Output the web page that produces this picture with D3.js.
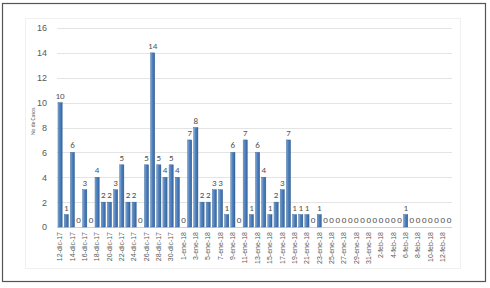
<!DOCTYPE html>
<html>
<head>
<meta charset="utf-8">
<script src="https://cdn.jsdelivr.net/npm/d3@7"></script>
<style>
  body { margin: 0; background: #fff; }
  svg { display: block; font-family: Calibri, Carlito, "Liberation Sans", Arial, sans-serif; }
</style>
</head>
<body>
<div id="chart"></div>
<script>
// daily dates, 12-dic-17 .. 13-feb-18
var dates = [
  "12-dic-17","13-dic-17","14-dic-17","15-dic-17","16-dic-17","17-dic-17","18-dic-17","19-dic-17",
  "20-dic-17","21-dic-17","22-dic-17","23-dic-17","24-dic-17","25-dic-17","26-dic-17","27-dic-17",
  "28-dic-17","29-dic-17","30-dic-17","31-dic-17",
  "1-ene-18","2-ene-18","3-ene-18","4-ene-18","5-ene-18","6-ene-18","7-ene-18","8-ene-18",
  "9-ene-18","10-ene-18","11-ene-18","12-ene-18","13-ene-18","14-ene-18","15-ene-18","16-ene-18",
  "17-ene-18","18-ene-18","19-ene-18","20-ene-18","21-ene-18","22-ene-18","23-ene-18","24-ene-18",
  "25-ene-18","26-ene-18","27-ene-18","28-ene-18","29-ene-18","30-ene-18","31-ene-18",
  "1-feb-18","2-feb-18","3-feb-18","4-feb-18","5-feb-18","6-feb-18","7-feb-18","8-feb-18",
  "9-feb-18","10-feb-18","11-feb-18","12-feb-18","13-feb-18"
];
var casos = [
  10,1,6,0,3,0,4,2,2,3,5,2,2,0,5,14,5,4,5,4,
  0,7,8,2,2,3,3,1,6,0,7,1,6,4,1,2,3,7,1,1,1,0,1,0,0,0,0,0,0,0,0,
  0,0,0,0,0,1,0,0,0,0,0,0,0
];
var yTicks = [0,2,4,6,8,10,12,14,16];
var yTitle = "No de Casos";

var width = 490, height = 288;
var margin = {top: 28, right: 38, bottom: 61, left: 57};

var svg = d3.select("#chart").append("svg")
  .attr("width", width)
  .attr("height", height);

// outer frame
svg.append("rect")
  .attr("x", 2.5).attr("y", 3.5)
  .attr("width", 483).attr("height", 278)
  .attr("fill", "#fff")
  .attr("stroke", "#555")
  .attr("stroke-width", 1.2);

// faint chart area box
svg.append("rect")
  .attr("x", 25.5).attr("y", 18.5)
  .attr("width", 435).attr("height", 250)
  .attr("fill", "none")
  .attr("stroke", "#f0f0f0");

var defs = svg.append("defs");
var grad = defs.append("linearGradient").attr("id", "barGrad")
  .attr("x1", "0%").attr("x2", "100%").attr("y1", "0%").attr("y2", "0%");
grad.append("stop").attr("offset", "0%").attr("stop-color", "#8cb0dc");
grad.append("stop").attr("offset", "35%").attr("stop-color", "#5686c2");
grad.append("stop").attr("offset", "100%").attr("stop-color", "#34659f");

var x = d3.scaleBand()
  .domain(dates)
  .range([margin.left, width - margin.right])
  .paddingInner(0.32)
  .paddingOuter(0.16);

var y = d3.scaleLinear()
  .domain([0, 16])
  .range([height - margin.bottom, margin.top]);

// gridlines
svg.append("g")
  .selectAll("line")
  .data(yTicks)
  .enter().append("line")
  .attr("x1", margin.left)
  .attr("x2", width - margin.right)
  .attr("y1", function(d) { return Math.round(y(d)) + 0.5; })
  .attr("y2", function(d) { return Math.round(y(d)) + 0.5; })
  .attr("stroke", function(d) { return d === 0 ? "#d0d0d0" : "#e4e4e4"; })
  .attr("stroke-width", 1);

// y axis labels
var yAxis = d3.axisLeft(y).tickValues(yTicks).tickSize(0).tickPadding(8);
var gy = svg.append("g")
  .attr("transform", "translate(" + (margin.left - 2) + ",0)")
  .call(yAxis);
gy.select(".domain").remove();
gy.selectAll("text").attr("fill", "#595959").style("font-size", "9px");

// y title
svg.append("text")
  .attr("transform", "translate(35," + y(8.5) + ") rotate(-90)")
  .attr("text-anchor", "middle")
  .attr("fill", "#595959")
  .style("font-size", "5.5px")
  .text(yTitle);

// bars
svg.append("g")
  .selectAll("rect")
  .data(casos)
  .enter().append("rect")
  .attr("x", function(d, i) { return x(dates[i]); })
  .attr("y", function(d) { return y(d); })
  .attr("width", x.bandwidth())
  .attr("height", function(d) { return y(0) - y(d); })
  .attr("fill", "url(#barGrad)")
  .attr("stroke", "#2c5a8c")
  .attr("stroke-width", 0.4);

// data labels
svg.append("g")
  .selectAll("text")
  .data(casos)
  .enter().append("text")
  .attr("x", function(d, i) { return x(dates[i]) + x.bandwidth() / 2; })
  .attr("y", function(d) { return y(d) - 4; })
  .attr("text-anchor", "middle")
  .attr("fill", "#505050")
  .style("font-size", "9px")
  .text(function(d) { return d; });

// x axis labels, every second day
var xAxis = d3.axisBottom(x)
  .tickValues(dates.filter(function(d, i) { return i % 2 === 0; }))
  .tickSize(0)
  .tickPadding(0);
var gx = svg.append("g")
  .attr("transform", "translate(0," + y(0) + ")")
  .call(xAxis);
gx.select(".domain").remove();
gx.selectAll("text")
  .attr("transform", "rotate(-90)")
  .attr("x", -5)
  .attr("y", 0)
  .attr("dy", "0.32em")
  .attr("text-anchor", "end")
  .attr("fill", "#595959")
  .style("font-size", "7px");
</script>
</body>
</html>
